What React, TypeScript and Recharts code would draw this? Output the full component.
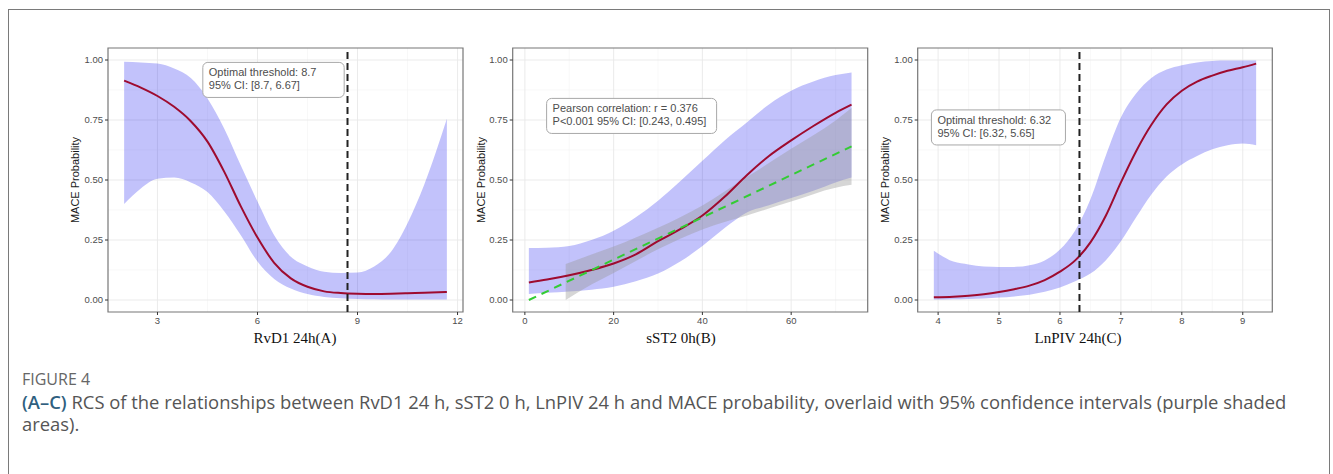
import React from 'react';
import {
  ComposedChart,
  Area,
  Line,
  XAxis,
  YAxis,
  CartesianGrid,
  ReferenceLine,
  ReferenceArea,
} from 'recharts';

// ---------- Panel A: RvD1 24h ----------
const aX = [2.0, 2.5, 3.0, 3.5, 4.0, 4.5, 5.0, 5.5, 6.0, 6.5, 7.0, 7.5, 8.0, 8.5, 9.0, 9.5, 10.0, 10.5, 11.0, 11.68];
const aFit = [0.914, 0.885, 0.85, 0.805, 0.745, 0.66, 0.535, 0.39, 0.26, 0.155, 0.09, 0.055, 0.036, 0.029, 0.026, 0.025, 0.026, 0.028, 0.03, 0.033];
const aLow = [0.4, 0.465, 0.505, 0.51, 0.49, 0.45, 0.37, 0.27, 0.16, 0.088, 0.048, 0.025, 0.013, 0.007, 0.004, 0.003, 0.002, 0.002, 0.002, 0.002];
const aHigh = [0.993, 0.99, 0.985, 0.965, 0.925, 0.84, 0.715, 0.56, 0.41, 0.27, 0.18, 0.14, 0.118, 0.113, 0.115, 0.14, 0.2, 0.32, 0.48, 0.755];
const aThreshold = 8.7;
const aTicks = [3, 6, 9, 12];
const aMinor = [4.5, 7.5, 10.5];
const aDomain: [number, number] = [1.516, 12.164];
const aNote = ['Optimal threshold: 8.7', '95% CI: [8.7, 6.67]'];
const aNoteBox = { x1: 4.36, x2: 8.6, y1: 0.844, y2: 0.99 };

// ---------- Panel B: sST2 0h ----------
const bX = [0.9, 5, 10, 15, 20, 25, 30, 35, 40, 45, 50, 55, 60, 65, 70, 73.6];
const bFit = [0.073, 0.085, 0.103, 0.125, 0.152, 0.19, 0.245, 0.295, 0.352, 0.43, 0.52, 0.6, 0.665, 0.725, 0.78, 0.814];
const bLow = [0.025, 0.03, 0.035, 0.043, 0.055, 0.078, 0.11, 0.16, 0.225, 0.3, 0.365, 0.395, 0.425, 0.455, 0.49, 0.51];
const bHigh = [0.217, 0.218, 0.225, 0.25, 0.289, 0.345, 0.414, 0.495, 0.58, 0.665, 0.74, 0.815, 0.872, 0.91, 0.937, 0.948];
const bLinX = [0.9, 73.6];
const bLin = [0.0, 0.64];
const bSeX = [9.2, 15, 20, 30, 40, 50, 60, 70, 73.6];
const bSeLow = [0.0, 0.065, 0.113, 0.211, 0.294, 0.352, 0.41, 0.468, 0.48];
const bSeHigh = [0.15, 0.19, 0.223, 0.301, 0.394, 0.512, 0.63, 0.748, 0.8];
const bTicks = [0, 20, 40, 60];
const bMinor = [10, 30, 50, 70];
const bDomain: [number, number] = [-2.74, 77.24];
const bNote = ['Pearson correlation: r = 0.376', 'P<0.001 95% CI: [0.243, 0.495]'];
const bNoteBox = { x1: 4.9, x2: 43.2, y1: 0.694, y2: 0.84 };

// ---------- Panel C: LnPIV 24h ----------
const cX = [3.93, 4.25, 4.5, 4.75, 5.0, 5.25, 5.5, 5.75, 6.0, 6.25, 6.5, 6.75, 7.0, 7.25, 7.5, 7.75, 8.0, 8.25, 8.5, 8.75, 9.0, 9.22];
const cFit = [0.011, 0.014, 0.018, 0.024, 0.033, 0.045, 0.06, 0.083, 0.118, 0.165, 0.24, 0.35, 0.49, 0.62, 0.73, 0.815, 0.872, 0.91, 0.935, 0.955, 0.97, 0.985];
const cLow = [0.002, 0.003, 0.004, 0.006, 0.01, 0.015, 0.022, 0.034, 0.052, 0.078, 0.11, 0.165, 0.245, 0.345, 0.44, 0.515, 0.565, 0.6, 0.628, 0.645, 0.652, 0.645];
const cHigh = [0.205, 0.16, 0.148, 0.14, 0.138, 0.138, 0.145, 0.165, 0.21, 0.29, 0.42, 0.6, 0.76, 0.86, 0.925, 0.96, 0.978, 0.99, 0.996, 0.998, 0.998, 0.998];
const cThreshold = 6.32;
const cTicks = [4, 5, 6, 7, 8, 9];
const cMinor = [4.5, 5.5, 6.5, 7.5, 8.5];
const cDomain: [number, number] = [3.665, 9.485];
const cNote = ['Optimal threshold: 6.32', '95% CI: [6.32, 5.65]'];
const cNoteBox = { x1: 3.89, x2: 6.09, y1: 0.646, y2: 0.792 };

// ---------- shared ----------
const yTicks = [0, 0.25, 0.5, 0.75, 1];
const yMinor = [0.125, 0.375, 0.625, 0.875];
const yDomain: [number, number] = [-0.05, 1.05];
const yTitle = 'MACE Probability';
const xTitles = ['RvD1 24h(A)', 'sST2 0h(B)', 'LnPIV 24h(C)'];
const figLabel = 'FIGURE 4';
const capLead = '(A–C)';
const capLine1 = ' RCS of the relationships between RvD1 24 h, sST2 0 h, LnPIV 24 h and MACE probability, overlaid with 95% confidence intervals (purple shaded';
const capLine2 = 'areas).';

type S = { key: string; x: number[]; y: (number | number[])[] };
function merge(series: S[]) {
  const map = new Map<number, any>();
  series.forEach((s) =>
    s.x.forEach((x, i) => {
      const row = map.get(x) || { x };
      row[s.key] = s.y[i];
      map.set(x, row);
    })
  );
  return Array.from(map.values()).sort((a, b) => a.x - b.x);
}
const zip = (lo: number[], hi: number[]) => lo.map((v, i) => [v, hi[i]]);

const dataA = merge([
  { key: 'fit', x: aX, y: aFit },
  { key: 'band', x: aX, y: zip(aLow, aHigh) },
]);
const dataB = merge([
  { key: 'fit', x: bX, y: bFit },
  { key: 'band', x: bX, y: zip(bLow, bHigh) },
  { key: 'lin', x: bLinX, y: bLin },
  { key: 'se', x: bSeX, y: zip(bSeLow, bSeHigh) },
]);
const dataC = merge([
  { key: 'fit', x: cX, y: cFit },
  { key: 'band', x: cX, y: zip(cLow, cHigh) },
]);

const SANS = 'Arial, "Liberation Sans", Helvetica, sans-serif';
const tickStyle = { fontSize: 9.5, fill: '#4d4d4d', fontFamily: SANS };

function NoteShape(lines: string[]) {
  return (props: any) => {
    const { x, y, width, height } = props;
    return (
      <g>
        <rect x={x} y={y} width={width} height={height} rx={5} ry={5} fill="#ffffff" stroke="#a8a8a8" strokeWidth={1} />
        <text x={x + 6} y={y + 14} fontSize={11} fill="#4d4d4d" fontFamily={SANS}>{lines[0]}</text>
        <text x={x + 6} y={y + 27} fontSize={11} fill="#4d4d4d" fontFamily={SANS}>{lines[1]}</text>
      </g>
    );
  };
}

type PanelProps = {
  data: any[];
  domain: [number, number];
  ticks: number[];
  minor: number[];
  threshold?: number;
  note: string[];
  noteBox: { x1: number; x2: number; y1: number; y2: number };
  withLinear?: boolean;
  left: number;
  marginLeft: number;
  marginRight: number;
};

function Panel(p: PanelProps) {
  return (
    <div style={{ position: 'absolute', left: p.left, top: 0 }}>
      <ComposedChart
        width={420}
        height={350}
        data={p.data}
        margin={{ top: 48, right: p.marginRight, bottom: 8, left: p.marginLeft }}
      >
        <CartesianGrid
          stroke="#f3f3f3"
          strokeWidth={0.6}
          horizontalValues={yMinor}
          verticalValues={p.minor}
        />
        <CartesianGrid
          stroke="#e9e9e9"
          strokeWidth={0.9}
          horizontalValues={yTicks}
          verticalValues={p.ticks}
        />
        <XAxis
          type="number"
          dataKey="x"
          domain={p.domain}
          ticks={p.ticks}
          allowDataOverflow
          axisLine={false}
          tickLine={{ stroke: '#333', strokeWidth: 1 }}
          tickSize={3}
          tickMargin={2}
          tick={tickStyle}
          height={30}
        />
        <YAxis
          type="number"
          domain={yDomain}
          ticks={yTicks}
          allowDataOverflow
          axisLine={false}
          tickLine={{ stroke: '#333', strokeWidth: 1 }}
          tickSize={3}
          tickMargin={2}
          tick={tickStyle}
          tickFormatter={(v: number) => v.toFixed(2)}
          width={40}
        />
        <Area
          type="monotone"
          dataKey="band"
          stroke="none"
          fill="#0a0af0"
          fillOpacity={0.25}
          connectNulls
          isAnimationActive={false}
          dot={false}
          activeDot={false}
        />
        {p.withLinear && (
          <Area
            type="monotone"
            dataKey="se"
            stroke="none"
            fill="#999999"
            fillOpacity={0.4}
            connectNulls
            isAnimationActive={false}
            dot={false}
            activeDot={false}
          />
        )}
        <Line
          type="monotone"
          dataKey="fit"
          stroke="#9e0b2f"
          strokeWidth={2}
          dot={false}
          activeDot={false}
          connectNulls
          isAnimationActive={false}
        />
        {p.withLinear && (
          <Line
            type="linear"
            dataKey="lin"
            stroke="#33cc33"
            strokeWidth={2}
            strokeDasharray="8 6"
            dot={false}
            activeDot={false}
            connectNulls
            isAnimationActive={false}
          />
        )}
        {p.threshold !== undefined && (
          <ReferenceLine x={p.threshold} stroke="#222" strokeWidth={2} strokeDasharray="7 4" />
        )}
        <ReferenceArea
          x1={p.noteBox.x1}
          x2={p.noteBox.x2}
          y1={p.noteBox.y1}
          y2={p.noteBox.y2}
          shape={NoteShape(p.note)}
        />
        <ReferenceArea
          x1={p.domain[0]}
          x2={p.domain[1]}
          y1={yDomain[0]}
          y2={yDomain[1]}
          fill="none"
          fillOpacity={0}
          stroke="#777"
          strokeWidth={1.2}
          ifOverflow="visible"
        />
      </ComposedChart>
    </div>
  );
}

const yTitleStyle = (cx: number): React.CSSProperties => ({
  position: 'absolute',
  left: cx - 60,
  top: 180 - 8,
  width: 120,
  height: 16,
  lineHeight: '16px',
  textAlign: 'center',
  transform: 'rotate(-90deg)',
  fontFamily: SANS,
  fontSize: 11,
  color: '#1a1a1a',
  whiteSpace: 'nowrap',
});

const xTitleStyle = (cx: number): React.CSSProperties => ({
  position: 'absolute',
  left: cx - 80,
  top: 338 - 10,
  width: 160,
  height: 20,
  lineHeight: '20px',
  textAlign: 'center',
  fontFamily: '"Liberation Serif", "Times New Roman", serif',
  fontSize: 15,
  color: '#111',
  whiteSpace: 'nowrap',
});

export default function App() {
  return (
    <div
      style={{
        position: 'absolute',
        left: 0,
        top: 0,
        width: 1333,
        height: 474,
        background: '#fff',
        overflow: 'hidden',
      }}
    >
      <div
        style={{
          position: 'absolute',
          left: 8,
          top: 9,
          width: 1322,
          height: 500,
          border: '1px solid #7a7a7a',
          boxSizing: 'border-box',
        }}
      />
      <Panel data={dataA} domain={aDomain} ticks={aTicks} minor={aMinor} threshold={aThreshold} note={aNote} noteBox={aNoteBox} left={50} marginLeft={18} marginRight={7} />
      <Panel data={dataB} domain={bDomain} ticks={bTicks} minor={bMinor} note={bNote} noteBox={bNoteBox} withLinear left={455} marginLeft={17.7} marginRight={7.3} />
      <Panel data={dataC} domain={cDomain} ticks={cTicks} minor={cMinor} threshold={cThreshold} note={cNote} noteBox={cNoteBox} left={860} marginLeft={17.7} marginRight={7.7} />

      <div style={yTitleStyle(75)}>{yTitle}</div>
      <div style={yTitleStyle(481)}>{yTitle}</div>
      <div style={yTitleStyle(885)}>{yTitle}</div>

      <div style={xTitleStyle(295)}>{xTitles[0]}</div>
      <div style={xTitleStyle(681)}>{xTitles[1]}</div>
      <div style={xTitleStyle(1078)}>{xTitles[2]}</div>

      <div
        style={{
          position: 'absolute',
          left: 22,
          top: 368,
          width: 1300,
          fontFamily: '"Open Sans", "Noto Sans", sans-serif',
          fontSize: 18.4,
          lineHeight: '22.5px',
          color: '#555',
          whiteSpace: 'nowrap',
        }}
      >
        <div style={{ color: '#666', fontWeight: 500, fontSize: 16 }}>{figLabel}</div>
        <div>
          <span style={{ color: '#2f5f7f', fontWeight: 600 }}>{capLead}</span>
          {capLine1}
        </div>
        <div>{capLine2}</div>
      </div>
    </div>
  );
}
